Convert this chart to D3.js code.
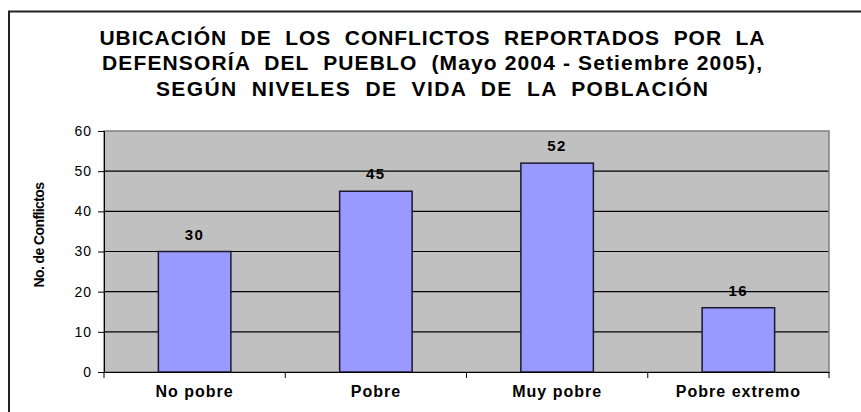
<!DOCTYPE html>
<html>
<head>
<meta charset="utf-8">
<script src="https://cdn.jsdelivr.net/npm/d3@7"></script>
<style>
  body { margin: 0; background: #fff; }
  text { font-family: "Liberation Sans", Arial, sans-serif; }
</style>
</head>
<body>
<div id="chart"></div>
<script>
var categories = ["No pobre", "Pobre", "Muy pobre", "Pobre extremo"];
var conflictos = [30, 45, 52, 16];
var yTicks = [0, 10, 20, 30, 40, 50, 60];
var titleLines = [
  "UBICACIÓN  DE  LOS  CONFLICTOS  REPORTADOS  POR  LA",
  "DEFENSORÍA  DEL  PUEBLO  (Mayo 2004 - Setiembre 2005),",
  "SEGÚN  NIVELES  DE  VIDA  DE  LA  POBLACIÓN"
];
var titleWidths = [665, 660, 552];

var W = 861, H = 412;
var margin = {top: 131, right: 32, bottom: 40, left: 104},
    width = W - margin.left - margin.right,
    height = H - margin.top - margin.bottom;

var svg = d3.select("#chart")
  .append("svg")
    .attr("width", W)
    .attr("height", H);

// outer chart border (right side falls outside the window)
svg.append("path")
    .attr("d", "M9," + H + " V11.5 H" + W)
    .attr("fill", "none")
    .attr("stroke", "#222")
    .attr("stroke-width", 2);

// title
svg.selectAll(".title")
  .data(titleLines)
  .enter()
  .append("text")
    .attr("x", 432)
    .attr("y", function(d, i) { return 44.5 + i * 25.5; })
    .attr("text-anchor", "middle")
    .attr("textLength", function(d, i) { return titleWidths[i]; })
    .attr("lengthAdjust", "spacing")
    .style("font-size", "21px")
    .style("font-weight", "bold")
    .style("white-space", "pre")
    .text(function(d) { return d; });

var g = svg.append("g")
    .attr("transform", "translate(" + margin.left + "," + margin.top + ")");

var x = d3.scaleBand()
    .domain(categories)
    .range([0, width]);

var y = d3.scaleLinear()
    .domain([0, 60])
    .range([height, 0]);

// plot background
g.append("rect")
    .attr("width", width)
    .attr("height", height)
    .attr("fill", "#c0c0c0");

// gridlines
g.selectAll(".grid")
  .data(yTicks.filter(function(d) { return d > 0 && d < 60; }))
  .enter()
  .append("line")
    .attr("x1", 0)
    .attr("x2", width)
    .attr("y1", function(d) { return y(d); })
    .attr("y2", function(d) { return y(d); })
    .attr("stroke", "#000")
    .attr("stroke-width", 1.2);

// plot border (gray)
g.append("rect")
    .attr("width", width)
    .attr("height", height)
    .attr("fill", "none")
    .attr("stroke", "#808080")
    .attr("stroke-width", 1.5);

// bars
var barW = x.bandwidth() * 0.4;
g.selectAll(".bar")
  .data(conflictos)
  .enter()
  .append("rect")
    .attr("x", function(d, i) { return x(categories[i]) + (x.bandwidth() - barW) / 2; })
    .attr("y", function(d) { return y(d); })
    .attr("width", barW)
    .attr("height", function(d) { return height - y(d); })
    .attr("fill", "#9999ff")
    .attr("stroke", "#1a1a2e")
    .attr("stroke-width", 1.5);

// value labels
g.selectAll(".val")
  .data(conflictos)
  .enter()
  .append("text")
    .attr("x", function(d, i) { return x(categories[i]) + x.bandwidth() / 2; })
    .attr("y", function(d) { return y(d) - 12; })
    .attr("text-anchor", "middle")
    .style("font-size", "15px")
    .style("font-weight", "bold")
    .style("letter-spacing", "1.5px")
    .text(function(d) { return d; });

// y axis
var yAxis = g.append("g")
    .call(d3.axisLeft(y).tickValues(yTicks).tickSize(6).tickPadding(6));
yAxis.select(".domain").attr("stroke", "#000");
yAxis.selectAll("text")
    .style("font-size", "14px")
    .style("letter-spacing", "1px")
    .style("font-family", "'Liberation Sans', Arial, sans-serif")
    .attr("fill", "#000");

// x axis
var xAxis = g.append("g")
    .attr("transform", "translate(0," + height + ")")
    .call(d3.axisBottom(x).tickSize(0).tickPadding(14));
xAxis.select(".domain").attr("stroke", "#000").attr("stroke-width", 1.2);
xAxis.selectAll("text")
    .style("font-size", "16px")
    .style("font-weight", "bold")
    .style("letter-spacing", "1px")
    .style("font-family", "'Liberation Sans', Arial, sans-serif")
    .attr("fill", "#000");

// category separator ticks
xAxis.selectAll(".sep")
  .data(categories.concat(["end"]))
  .enter()
  .append("line")
    .attr("x1", function(d, i) { return i * x.bandwidth(); })
    .attr("x2", function(d, i) { return i * x.bandwidth(); })
    .attr("y1", 0)
    .attr("y2", 6)
    .attr("stroke", "#000");

// y axis title
svg.append("text")
    .attr("transform", "translate(44,235) rotate(-90)")
    .attr("text-anchor", "middle")
    .style("font-size", "14px")
    .style("font-weight", "bold")
    .style("letter-spacing", "-0.6px")
    .text("No. de Conflictos");
</script>
</body>
</html>
